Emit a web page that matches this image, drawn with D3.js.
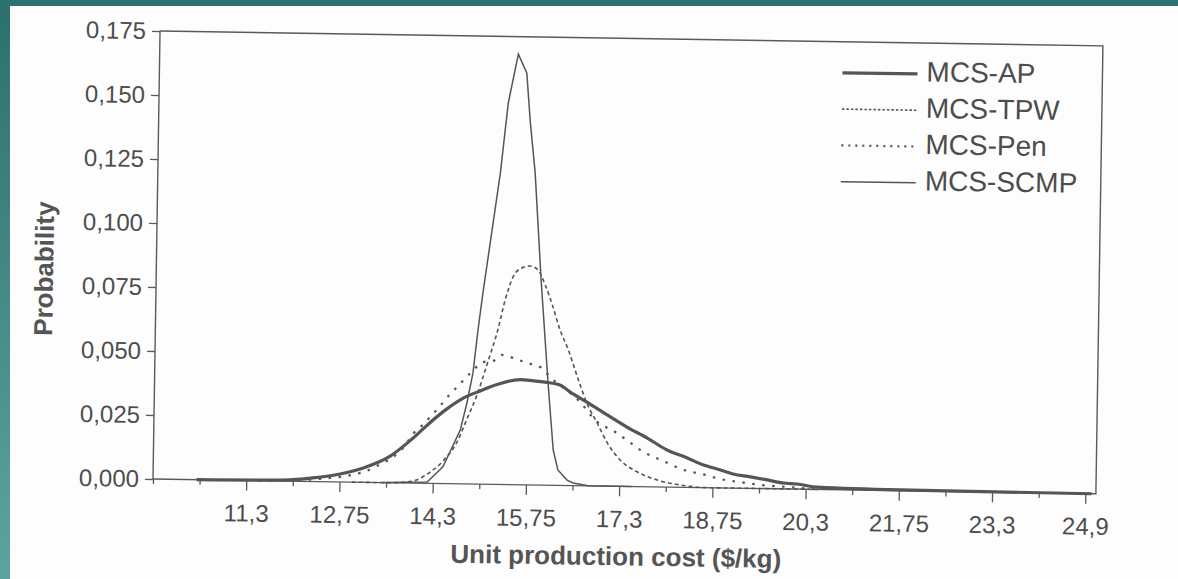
<!DOCTYPE html>
<html>
<head>
<meta charset="utf-8">
<script src="https://cdn.jsdelivr.net/npm/d3@7"></script>
<style>
  body { margin: 0; background: #2f7372; }
  svg { display: block; }
  text { font-family: "Liberation Sans", Arial, sans-serif; fill: #4d4d4d; }
  .tick line { stroke: #5a5a5a; stroke-width: 1.3; }
  .axis-label { font-weight: bold; font-size: 26px; fill: #555; }
</style>
</head>
<body>
<div id="wrapper"></div>
<script>
// 1. Data (x = unit production cost, y = probability)
const xTickValues = [11.3, 12.8, 14.3, 15.8, 17.3, 18.8, 20.3, 21.8, 23.3, 24.8]
const xTickLabels = ["11,3", "12,75", "14,3", "15,75", "17,3", "18,75", "20,3", "21,75", "23,3", "24,9"]
const xMinorTicks = [9.8, 10.55, 12.05, 13.55, 15.05, 16.55, 18.05, 19.55, 21.05, 22.55, 24.05]
const yTickValues = [0, 0.025, 0.05, 0.075, 0.1, 0.125, 0.15, 0.175]

const seriesNames = ["MCS-AP", "MCS-TPW", "MCS-Pen", "MCS-SCMP"]

const mcsAP = [
  [10.5, 0], [11.9, 0.0004], [12.37, 0.0014], [12.81, 0.0031], [13.18, 0.0056],
  [13.61, 0.0104], [13.97, 0.0175], [14.24, 0.0237], [14.51, 0.0292], [14.77, 0.0335],
  [15.04, 0.0364], [15.31, 0.039], [15.68, 0.0411], [16.05, 0.0403], [16.32, 0.0392],
  [16.49, 0.0365], [16.76, 0.0327], [17.09, 0.0278], [17.41, 0.0232], [17.74, 0.019],
  [18.06, 0.0145], [18.39, 0.0115], [18.65, 0.0088], [18.87, 0.0074], [19.13, 0.0055],
  [19.41, 0.0045], [19.68, 0.0034], [19.94, 0.0023], [20.16, 0.002], [20.49, 0.0009],
  [21.82, 0.0003], [24.9, 0]
]
const mcsTPW = [
  [13.0, 0], [13.62, 0], [13.98, 0.0008], [14.21, 0.0036], [14.46, 0.0088], [14.68, 0.0163],
  [14.84, 0.0257], [14.99, 0.0348], [15.15, 0.0473], [15.3, 0.0595], [15.42, 0.0721],
  [15.54, 0.0811], [15.68, 0.0847], [15.81, 0.0855], [15.94, 0.084], [16.06, 0.0782],
  [16.18, 0.0704], [16.31, 0.0607], [16.45, 0.0529], [16.6, 0.0425], [16.76, 0.0323],
  [16.93, 0.0246], [17.1, 0.0168], [17.31, 0.0103], [17.59, 0.0057], [17.91, 0.0027],
  [18.28, 0.0009], [18.76, 0], [20.5, 0]
]
const mcsPen = [
  [11.5, 0], [12.2, 0.0005], [12.65, 0.0015], [12.92, 0.0024], [13.18, 0.004], [13.37, 0.0061],
  [13.85, 0.0148], [13.97, 0.0192], [14.12, 0.0227], [14.27, 0.0267], [14.4, 0.0303],
  [14.53, 0.0342], [14.67, 0.0378], [14.79, 0.041], [14.91, 0.0441], [15.08, 0.0477],
  [15.24, 0.0482], [15.38, 0.0506], [15.56, 0.0495], [15.79, 0.0476], [16.0, 0.0461],
  [16.16, 0.0423], [16.65, 0.0327], [16.9, 0.0257], [17.25, 0.0208], [17.41, 0.0181],
  [17.68, 0.0136], [18.0, 0.0102], [18.33, 0.0068], [18.63, 0.0053], [18.92, 0.0035],
  [19.24, 0.0024], [19.57, 0.0014], [20.0, 0.0008], [20.5, 0]
]
const mcsSCMP = [
  [13.5, 0], [14.21, 0.0005], [14.46, 0.0065], [14.73, 0.021], [14.83, 0.0316],
  [14.92, 0.0434], [14.99, 0.0602], [15.06, 0.0747], [15.31, 0.1216], [15.42, 0.1491],
  [15.57, 0.1682], [15.71, 0.1609], [15.78, 0.1414], [15.87, 0.1219], [15.99, 0.0809],
  [16.13, 0.0399], [16.23, 0.0138], [16.31, 0.006], [16.46, 0.0021], [16.56, 0.001],
  [16.8, 0], [17.5, 0]
]

async function drawChart() {

  // 2. Dimensions (the scan is tilted a little, so the plot is rotated)
  const dimensions = {
    width: 1178,
    height: 579,
    originX: 153,
    originY: 479,
    tilt: 0.9,
    boundedWidth: 943,
    boundedHeight: 448,
  }

  // 3. Canvas
  const wrapper = d3.select("#wrapper")
    .append("svg")
    .attr("width", dimensions.width)
    .attr("height", dimensions.height)

  const defs = wrapper.append("defs")
  const grad = defs.append("linearGradient")
    .attr("id", "teal")
    .attr("x1", 0).attr("y1", 0).attr("x2", 0).attr("y2", 1)
  grad.append("stop").attr("offset", "0%").attr("stop-color", "#2c6f6f")
  grad.append("stop").attr("offset", "100%").attr("stop-color", "#5fa39f")

  wrapper.append("rect")
    .attr("width", dimensions.width)
    .attr("height", dimensions.height)
    .attr("fill", "url(#teal)")
  wrapper.append("rect")
    .attr("x", 0).attr("y", 0)
    .attr("width", dimensions.width).attr("height", 6)
    .attr("fill", "#2e7171")
  wrapper.append("rect")
    .attr("x", 10).attr("y", 6)
    .attr("width", dimensions.width - 10)
    .attr("height", dimensions.height - 6)
    .attr("fill", "#fdfdfd")

  const bounds = wrapper.append("g")
    .attr("transform", `translate(${dimensions.originX},${dimensions.originY}) rotate(${dimensions.tilt})`)

  // 4. Scales
  const xScale = d3.scaleLinear()
    .domain([9.8, 24.97])
    .range([0, dimensions.boundedWidth])

  const yScale = d3.scaleLinear()
    .domain([0, 0.175])
    .range([0, -dimensions.boundedHeight])

  const locale = d3.formatLocale({ decimal: ",", thousands: ".", grouping: [3], currency: ["", ""] })
  const formatProb = locale.format(".3f")

  // 5. Peripherals
  bounds.append("rect")
    .attr("x", 0)
    .attr("y", yScale(0.175))
    .attr("width", dimensions.boundedWidth)
    .attr("height", dimensions.boundedHeight)
    .attr("fill", "none")
    .attr("stroke", "#5a5a5a")
    .attr("stroke-width", 1.4)

  const yAxis = bounds.append("g")
    .call(d3.axisLeft(yScale)
      .tickValues(yTickValues)
      .tickSize(8)
      .tickPadding(6)
      .tickFormat(formatProb))
  yAxis.select(".domain").remove()
  yAxis.selectAll("text").style("font-size", "24px").attr("fill", "#4d4d4d")

  const xAxis = bounds.append("g")
    .call(d3.axisBottom(xScale)
      .tickValues(xTickValues)
      .tickSize(10)
      .tickPadding(14)
      .tickFormat((d, i) => xTickLabels[i]))
  xAxis.select(".domain").remove()
  xAxis.selectAll("text").style("font-size", "24px").attr("fill", "#4d4d4d")

  const xMinor = bounds.append("g")
    .call(d3.axisBottom(xScale)
      .tickValues(xMinorTicks)
      .tickSize(5)
      .tickFormat(""))
  xMinor.select(".domain").remove()

  bounds.append("text")
    .attr("class", "axis-label")
    .attr("transform", `translate(-110,${yScale(0.0815)}) rotate(-90)`)
    .attr("text-anchor", "middle")
    .attr("dominant-baseline", "middle")
    .text("Probability")

  bounds.append("text")
    .attr("class", "axis-label")
    .attr("x", 464)
    .attr("y", 79)
    .attr("text-anchor", "middle")
    .text("Unit production cost ($/kg)")

  // 6. Data
  const styles = [
    { data: mcsAP, width: 3.2, dash: null, curve: d3.curveMonotoneX },
    { data: mcsTPW, width: 1.6, dash: "4,3", curve: d3.curveMonotoneX },
    { data: mcsPen, width: 2.2, dash: "2.5,7.5", curve: d3.curveMonotoneX },
    { data: mcsSCMP, width: 1.5, dash: null, curve: d3.curveLinear },
  ]

  styles.forEach(s => {
    const lineGenerator = d3.line()
      .x(d => xScale(d[0]))
      .y(d => yScale(d[1]))
      .curve(s.curve)
    bounds.append("path")
      .attr("d", lineGenerator(s.data))
      .attr("fill", "none")
      .attr("stroke", "#555")
      .attr("stroke-width", s.width)
      .attr("stroke-dasharray", s.dash)
  })

  // 7. Legend
  const legend = bounds.append("g")
    .attr("transform", "translate(683,-417)")
  seriesNames.forEach((name, i) => {
    const row = legend.append("g").attr("transform", `translate(0,${i * 36.3})`)
    row.append("line")
      .attr("x1", 0).attr("x2", 75)
      .attr("stroke", "#555")
      .attr("stroke-width", styles[i].width)
      .attr("stroke-dasharray", i == 2 ? "2,5" : i == 1 ? "2.5,2" : null)
    row.append("text")
      .attr("x", 84)
      .attr("dominant-baseline", "middle")
      .style("font-size", "28px")
      .attr("fill", "#4d4d4d")
      .text(name)
  })
}
drawChart()
</script>
</body>
</html>
